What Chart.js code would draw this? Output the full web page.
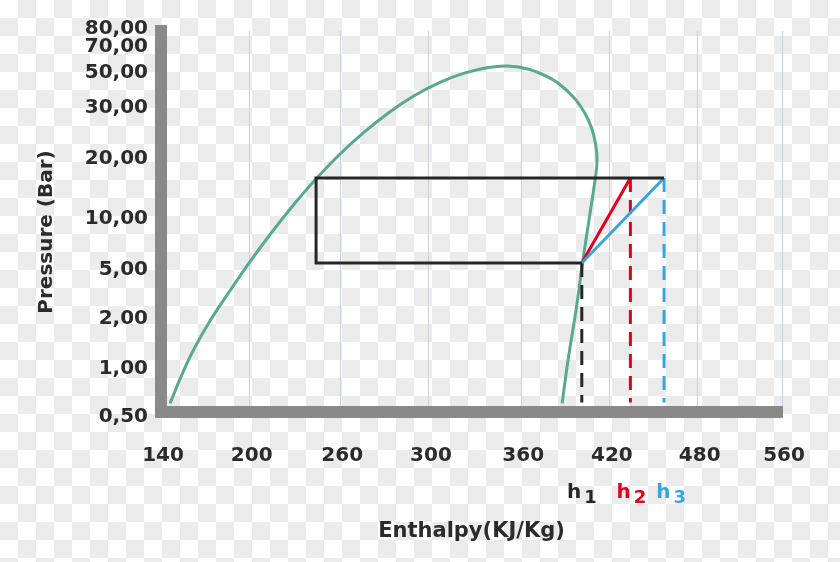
<!DOCTYPE html>
<html><head><meta charset="utf-8">
<script src="https://cdn.jsdelivr.net/npm/chart.js@4/dist/chart.umd.min.js"></script>
<style>
html,body{margin:0;padding:0;}
body{width:840px;height:562px;overflow:hidden;background-color:#fff;
background-image:conic-gradient(#ebebeb 25%,#fff 0 50%,#ebebeb 0 75%,#fff 0);background-size:36px 36px;}
canvas{display:block;}
</style></head><body>
<canvas id="c" width="840" height="562"></canvas>
<script>
// ---- data ----
// x-axis tick labels (enthalpy, kJ/kg)
const xTickValues = [140, 200, 260, 300, 360, 420, 480, 560];
// the printed enthalpy scale is irregular: level of each label along the axis
const xTickLevels = [0, 1, 2.02, 3.02, 4.06, 5.06, 6.05, 7];
// y-axis tick labels (pressure, bar)
const yTickValues = [0.5, 1, 2, 5, 10, 20, 30, 50, 70, 80];
const yTickLabels = ['0,50', '1,00', '2,00', '5,00', '10,00', '20,00', '30,00', '50,00', '70,00', '80,00'];
// the printed pressure scale is irregular: level of each label on the axis (0 = bottom)
const yTickLevels = [0, 0.96, 1.96, 2.94, 3.96, 5.16, 6.18, 6.88, 7.40, 7.76];

// saturation dome (enthalpy kJ/kg, pressure bar)
const domeH = [146.1, 153.5, 161.6, 173.1, 186.7, 200.2, 213.5, 226.7, 243.3, 259.9, 271.2, 282.5, 293.7, 307.2, 323.5, 337.8,
               350.8, 365.2, 380.2, 389.0, 396.8, 403.0, 407.6, 410.3, 411.3, 410.3, 406.6, 404.0, 401.5, 397.1, 391.7, 387.7];
const domeP = [0.59, 0.865, 1.26, 1.86, 3.43, 5.33, 7.99, 10.8, 15.65, 20.0, 24.43, 28.29, 34.4, 41.83, 47.2, 50.23,
               51.54, 49.31, 43.94, 38.57, 31.94, 28.04, 25.12, 22.02, 19.0, 16.28, 10.17, 7.65, 5.2, 2.24, 1.08, 0.59];

// refrigeration cycle
const cycleH = [401, 244, 244, 457];
const cycleP = [5.2, 5.2, 16, 16];
const stateH = [401, 434, 457];      // h1, h2, h3
const pLow = 5.2, pHigh = 16, pFloor = 0.6;
const hNames = [['h', '1'], ['h', '2'], ['h', '3']];

// ---- styles ----
const TEXT = '#2b2b2b';
const AXIS = '#898989';
const GREEN = '#58a892';
const BLACK = '#262626';
const RED = '#e2001a';
const BLUE = '#38a5e0';
const hColors = [BLACK, RED, BLUE];
const hNudge = [0, 1, 7];
const FONT = 'DejaVu Sans';

// ---- axis mapping (piecewise along printed ticks) ----
function interp(v, xs, ys) {
  let i = 0;
  while (i < xs.length - 2 && v > xs[i + 1]) i++;
  const t = (v - xs[i]) / (xs[i + 1] - xs[i]);
  return ys[i] + t * (ys[i + 1] - ys[i]);
}
const ax = h => interp(h, xTickValues, xTickLevels);
const ay = p => interp(p, yTickValues, yTickLevels);
const pts = (H, P) => H.map((h, i) => ({x: ax(h), y: ay(P[i])}));

const line = (data, color, extra) => Object.assign({
  data, showLine: true, borderColor: color, backgroundColor: color, borderWidth: 3,
  pointRadius: 0, pointHoverRadius: 0, fill: false, tension: 0, borderJoinStyle: 'miter'
}, extra || {});

const dash = [14, 8];
const datasets = [
  line(pts(cycleH, cycleP), BLACK),
  line(pts([stateH[0], stateH[2]], [pLow, pHigh]), BLUE),
  line(pts([stateH[0], stateH[1]], [pLow, pHigh]), RED),
  line(pts([stateH[0], stateH[0]], [pLow, pFloor]), BLACK, {borderDash: dash}),
  line(pts([stateH[1], stateH[1]], [pHigh, pFloor]), RED, {borderDash: dash}),
  line(pts([stateH[2], stateH[2]], [pHigh, pFloor]), BLUE, {borderDash: dash}),
  line(pts(domeH, domeP), GREEN, {tension: 0.4, borderJoinStyle: 'round'})
];

const hLabelPlugin = {
  id: 'hlabels',
  afterDatasetsDraw(chart) {
    const ctx = chart.ctx, xs = chart.scales.x, bottom = chart.chartArea.bottom;
    ctx.save();
    stateH.forEach((h, i) => {
      const cx = xs.getPixelForValue(ax(h)) + hNudge[i];
      ctx.font = 'bold 20px "' + FONT + '"';
      const w1 = ctx.measureText(hNames[i][0]).width;
      ctx.font = 'bold 18px "' + FONT + '"';
      const w2 = ctx.measureText(hNames[i][1]).width;
      const gap = 3;
      const x0 = cx - (w1 + gap + w2) / 2;
      ctx.fillStyle = hColors[i];
      ctx.textBaseline = 'alphabetic';
      ctx.textAlign = 'left';
      ctx.font = 'bold 20px "' + FONT + '"';
      ctx.fillText(hNames[i][0], x0, bottom + 86);
      ctx.font = 'bold 18px "' + FONT + '"';
      ctx.fillText(hNames[i][1], x0 + w1 + gap, bottom + 91);
    });
    ctx.restore();
  }
};

new Chart(document.getElementById('c'), {
  type: 'scatter',
  data: {datasets},
  plugins: [hLabelPlugin],
  options: {
    responsive: false,
    animation: false,
    events: [],
    layout: {padding: {top: 31, right: 58, left: 0, bottom: 0}},
    plugins: {legend: {display: false}, tooltip: {enabled: false}},
    scales: {
      x: {
        type: 'linear', position: 'bottom', min: 0, max: 7,
        afterBuildTicks: s => { s.ticks = xTickLevels.map(v => ({value: v})); },
        afterFit: s => { s.height = 150; },
        grid: {display: true, color: '#c3d3e2', lineWidth: 1, drawTicks: false},
        border: {display: true, color: AXIS, width: 12},
        ticks: {autoSkip: false, maxRotation: 0, padding: 32, labelOffset: 2, color: TEXT,
          font: {family: FONT, size: 20, weight: 'bold'},
          callback: (v, i) => String(xTickValues[i])},
        title: {display: true, text: 'Enthalpy(KJ/Kg)', color: TEXT,
          font: {family: FONT, size: 21, weight: 'bold'}, padding: {top: 0, bottom: 18}}
      },
      y: {
        type: 'linear', min: 0, max: 7.62,
        afterBuildTicks: s => { s.ticks = yTickLevels.map(v => ({value: v})); },
        afterFit: s => { s.width = 161; },
        grid: {display: false, drawTicks: false},
        border: {display: true, color: AXIS, width: 12},
        ticks: {autoSkip: false, padding: 13, labelOffset: 5, color: TEXT,
          font: {family: FONT, size: 20, weight: 'bold'},
          callback: (v, i) => yTickLabels[i]},
        title: {display: true, text: 'Pressure (Bar)   ', color: TEXT,
          font: {family: FONT, size: 20, weight: 'bold'}, padding: {top: 35, bottom: 0}}
      }
    }
  }
});
</script>
</body></html>
